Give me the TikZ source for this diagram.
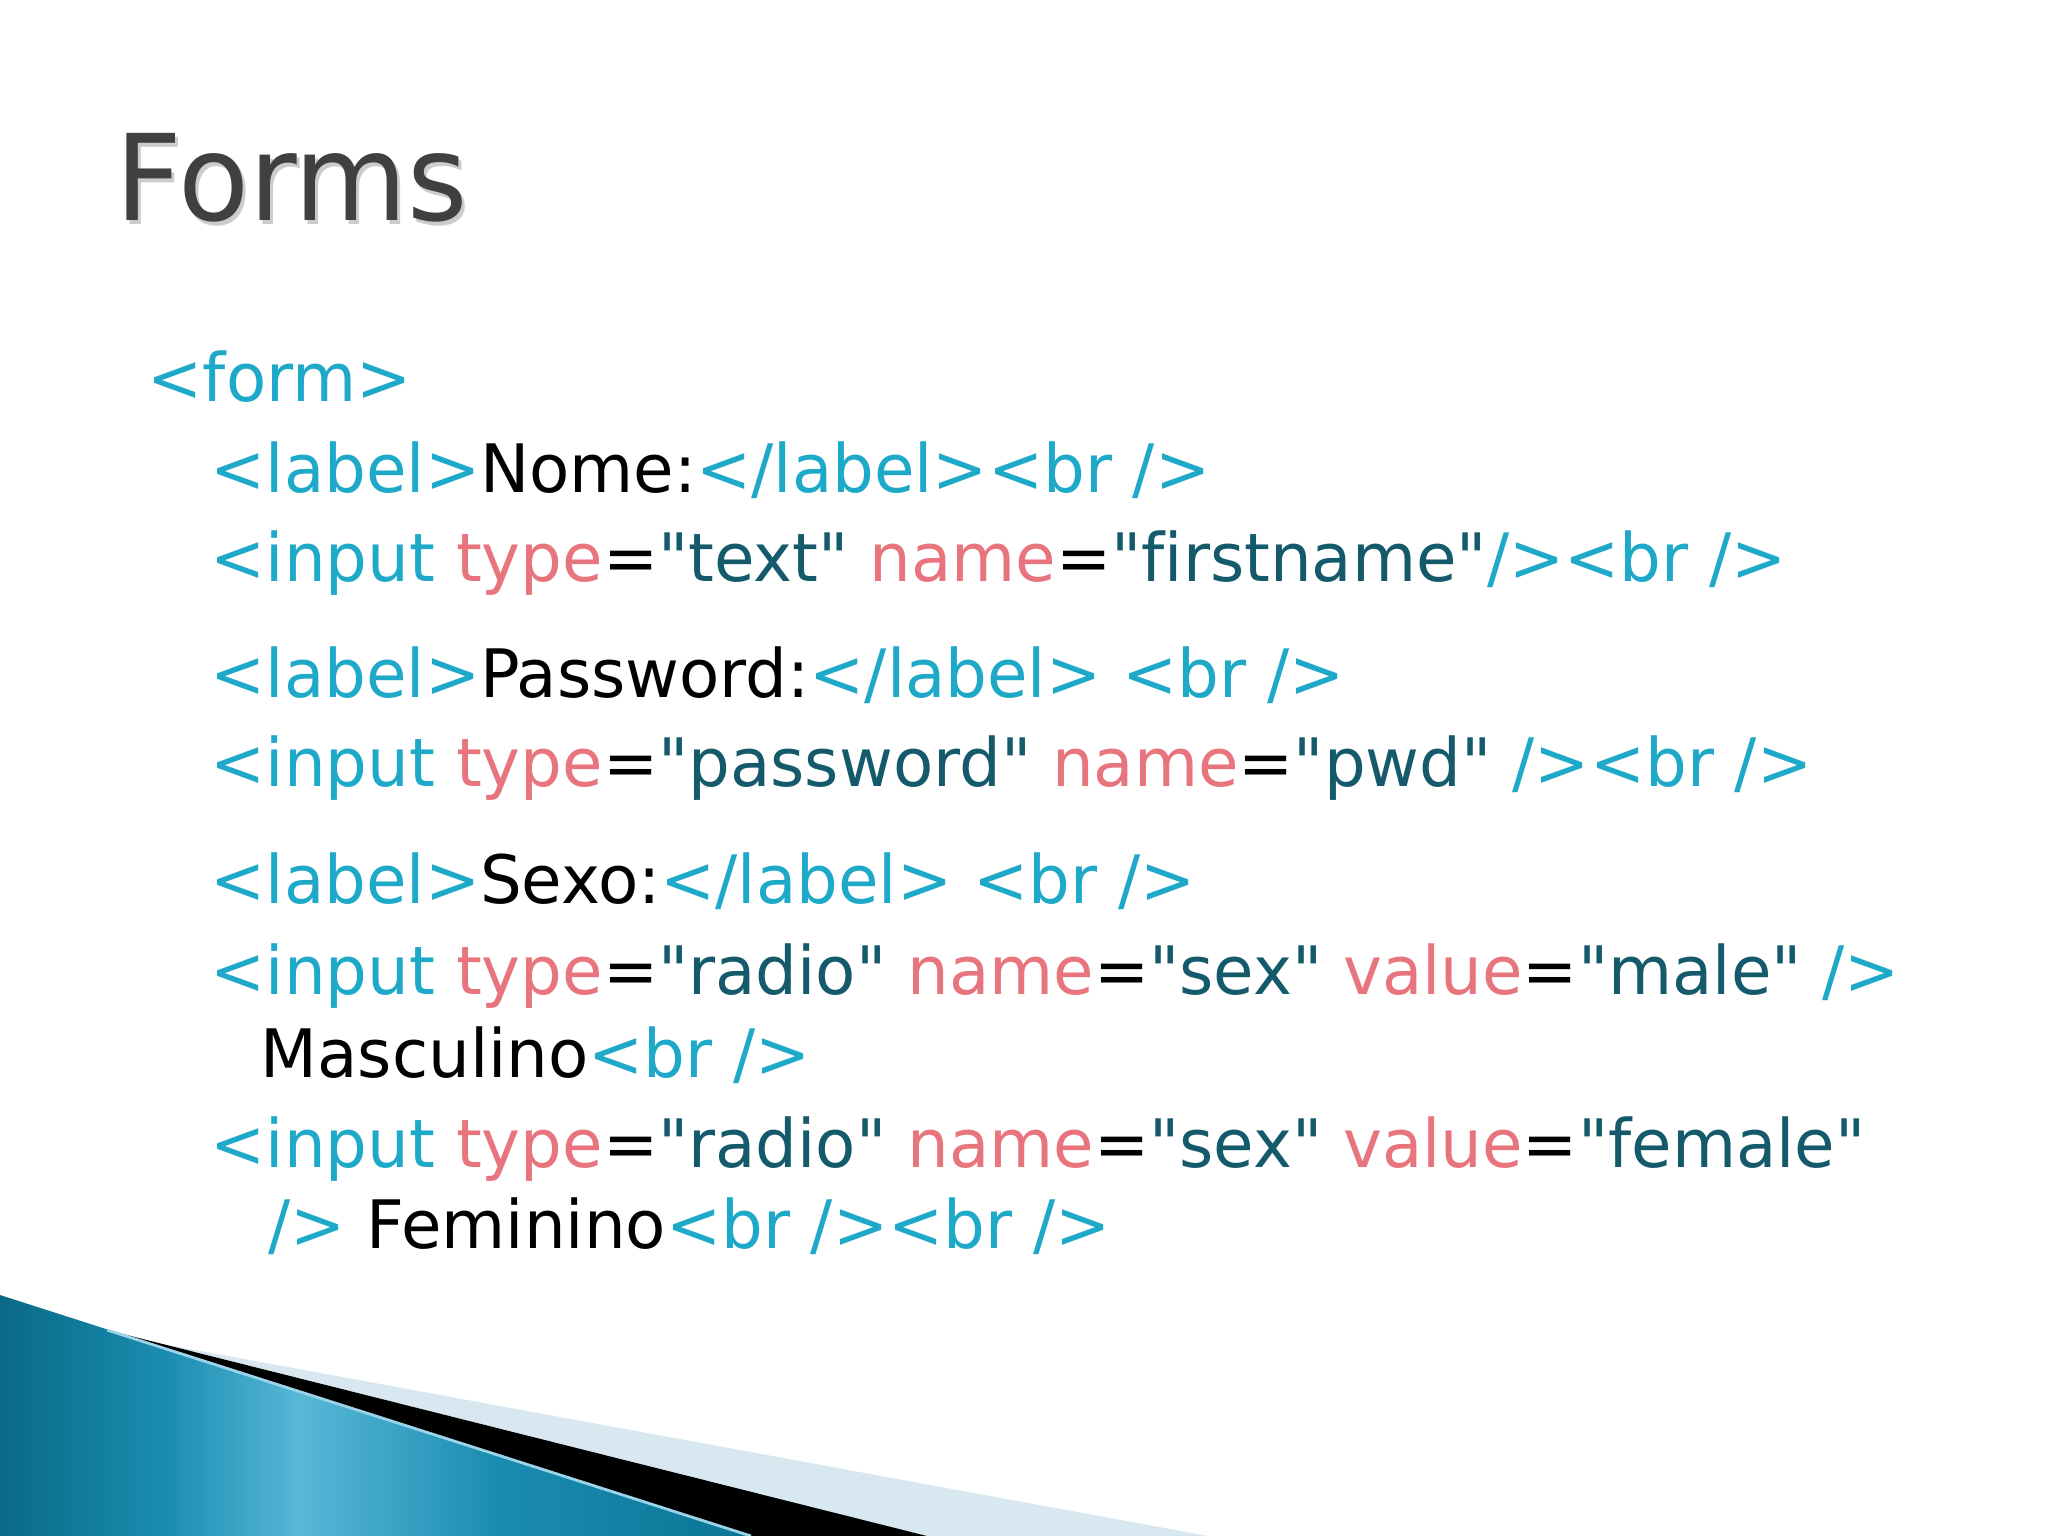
\documentclass[tikz,border=0pt]{standalone}
\usepackage{fontspec}
\setmainfont{DejaVu Sans}[Ligatures={TeXOff,CommonOff}, FakeStretch=0.985]
\newfontfamily\titlefont[FakeStretch=0.97]{DejaVu Sans}
\definecolor{tagc}{HTML}{1FA9C9}
\definecolor{attrc}{HTML}{E8747D}
\definecolor{valc}{HTML}{145A6B}
\definecolor{titlec}{HTML}{404040}
\definecolor{tealdark}{HTML}{096A86}
\definecolor{tealmid}{HTML}{1A8CB0}
\definecolor{teallight}{HTML}{58B8D8}
\definecolor{tealedge}{HTML}{0B7595}
\definecolor{paleblue}{HTML}{D8E8F1}
\pgfdeclarehorizontalshading{tealband}{100bp}{color(0bp)=(tealdark); color(25bp)=(tealdark); color(36bp)=(tealmid); color(45bp)=(teallight); color(58bp)=(tealmid); color(75bp)=(tealedge); color(100bp)=(tealedge)}
\newcommand{\htag}[1]{\textcolor{tagc}{#1}}
\newcommand{\hattr}[1]{\textcolor{attrc}{#1}}
\newcommand{\hval}[1]{\textcolor{valc}{#1}}
\tikzset{
  code/.style={anchor=base west, inner sep=0pt, font=\fontsize{19pt}{23pt}\selectfont},
  heading/.style={anchor=base west, inner sep=0pt, text=titlec, font=\titlefont\fontsize{34pt}{40pt}\selectfont}
}
\begin{document}
\begin{tikzpicture}[x=0.01cm, y=-0.01cm]
  \useasboundingbox (0,0) rectangle (2048,1536);
  \fill[white] (0,0) rectangle (2048,1536);
  \fill[paleblue] (168,1345) -- (1208,1536) -- (927,1536) -- cycle;
  \fill[black] (107,1330) -- (927,1536) -- (751,1536) -- cycle;
  \shade[shading=tealband] (0,1295) -- (751,1536) -- (0,1536) -- cycle;
  \draw[teallight!60!white, line width=0.8pt] (107,1330) -- (751,1536);
  \node[heading, text=gray!40] (shadow) at (118,224) {Forms};
  \node[heading] (title) at (115,220) {Forms};
  \node[code] (l1) at (147,401) {\htag{<form>}};
  \node[code] (l2) at (210,492) {\htag{<label>}Nome:\htag{</label><br />}};
  \node[code] (l3) at (210,581) {\htag{<input }\hattr{type}=\hval{"text"} \hattr{name}=\hval{"firstname"}\htag{/><br />}};
  \node[code] (l4) at (210,697) {\htag{<label>}Password:\htag{</label> <br />}};
  \node[code] (l5) at (210,786) {\htag{<input }\hattr{type}=\hval{"password"} \hattr{name}=\hval{"pwd"} \htag{/><br />}};
  \node[code] (l6) at (210,903) {\htag{<label>}Sexo:\htag{</label> <br />}};
  \node[code] (l7) at (210,994) {\htag{<input }\hattr{type}=\hval{"radio"} \hattr{name}=\hval{"sex"} \hattr{value}=\hval{"male"} \htag{/>}};
  \node[code] (l8) at (260,1077) {Masculino\htag{<br />}};
  \node[code] (l9) at (210,1167) {\htag{<input }\hattr{type}=\hval{"radio"} \hattr{name}=\hval{"sex"} \hattr{value}=\hval{"female"}};
  \node[code] (l10) at (268,1248) {\htag{/>} Feminino\htag{<br /><br />}};
\end{tikzpicture}
\end{document}
